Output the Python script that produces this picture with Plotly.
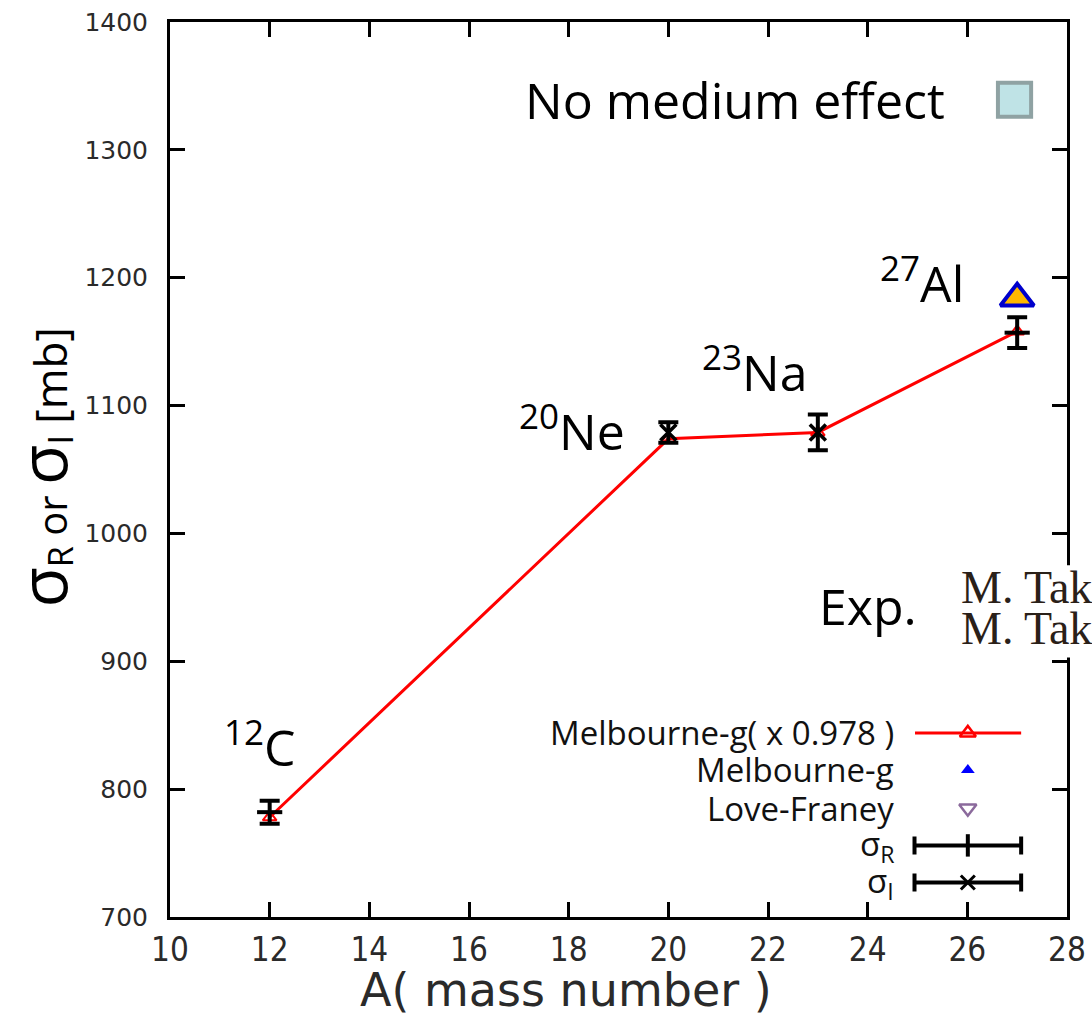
import plotly.graph_objects as go

# Target mass numbers and nucleus labels
mass = [12, 20, 23, 27]
nucleus_labels = ["<sup>12</sup>C", "<sup>20</sup>Ne", "<sup>23</sup>Na", "<sup>27</sup>Al"]
label_x = [11.81, 18.07, 21.73, 25.09]
label_y = [835, 1082, 1128, 1198]

# Melbourne g-matrix folding model, scaled by 0.978
melb_scaled = [778, 1074, 1079, 1158]

# Melbourne g-matrix folding model, unscaled (27Al only)
melb_A = [27]
melb_val = [1184]

# Measured reaction cross sections sigma_R
sigR_A = [12, 27]
sigR = [782, 1157]
sigR_err = [9, 12]

# Measured interaction cross sections sigma_I
sigI_A = [20, 23]
sigI = [1079, 1079]
sigI_err = [8, 14]

# Axis ticks
x_ticks = [10, 12, 14, 16, 18, 20, 22, 24, 26, 28]
y_ticks = [700, 800, 900, 1000, 1100, 1200, 1300, 1400]

SANS = "Open Sans, DejaVu Sans, sans-serif"
VERD = "DejaVu Sans, sans-serif"
NARROW = "DejaVu Sans Condensed, DejaVu Sans, sans-serif"
SERIF = "Liberation Serif, DejaVu Serif, serif"

fig = go.Figure()

# Theory curve
fig.add_trace(go.Scatter(
    x=mass, y=melb_scaled, mode="lines+markers",
    line=dict(color="#ff0000", width=3),
    marker=dict(symbol="triangle-up-open", size=12, color="#ff0000", line=dict(width=2)),
    showlegend=False,
))

# Experimental points with error bars
fig.add_trace(go.Scatter(
    x=sigR_A, y=sigR, mode="markers",
    marker=dict(symbol="line-ew-open", size=18, color="black", line=dict(width=4, color="black")),
    error_y=dict(type="data", array=sigR_err, color="black", thickness=4, width=10),
    showlegend=False,
))
fig.add_trace(go.Scatter(
    x=sigI_A, y=sigI, mode="markers",
    marker=dict(symbol="x-thin-open", size=16, color="black", line=dict(width=3.5, color="black")),
    error_y=dict(type="data", array=sigI_err, color="black", thickness=4, width=10),
    showlegend=False,
))

# Unscaled Melbourne value
fig.add_trace(go.Scatter(
    x=melb_A, y=melb_val, mode="markers",
    marker=dict(symbol="triangle-up", size=29, color="#ffb800", line=dict(width=4, color="#0000cc")),
    showlegend=False,
))

# ---- key (drawn at the lower right of the frame) ----
key_x0, key_xm, key_x1 = 24.95, 26.01, 27.08
key_rows = [844, 815, 785, 756, 727]
key_text = [
    "Melbourne-g( x 0.978 )",
    "Melbourne-g",
    "Love-Franey",
    "σ<sub>R</sub>",
    "σ<sub>I</sub>",
]

fig.add_trace(go.Scatter(
    x=[key_x0, key_x1], y=[key_rows[0], key_rows[0]], mode="lines",
    line=dict(color="#ff0000", width=3), showlegend=False, hoverinfo="skip",
))
fig.add_trace(go.Scatter(
    x=[key_xm], y=[key_rows[0]], mode="markers",
    marker=dict(symbol="triangle-up-open", size=14, color="#ff0000", line=dict(width=2.5)),
    showlegend=False, hoverinfo="skip",
))
fig.add_trace(go.Scatter(
    x=[key_xm], y=[key_rows[1]], mode="markers",
    marker=dict(symbol="triangle-up", size=12, color="#0000ff"),
    showlegend=False, hoverinfo="skip",
))
fig.add_trace(go.Scatter(
    x=[key_xm], y=[key_rows[2]], mode="markers",
    marker=dict(symbol="triangle-down-open", size=15, color="#8b6a9c", line=dict(width=2.5)),
    showlegend=False, hoverinfo="skip",
))
fig.add_trace(go.Scatter(
    x=[key_xm], y=[key_rows[3]], mode="markers",
    marker=dict(symbol="line-ns-open", size=16, color="black", line=dict(width=4, color="black")),
    error_x=dict(type="constant", value=key_x1 - key_xm, color="black", thickness=4, width=9),
    showlegend=False, hoverinfo="skip",
))
fig.add_trace(go.Scatter(
    x=[key_xm], y=[key_rows[4]], mode="markers",
    marker=dict(symbol="x-thin-open", size=14, color="black", line=dict(width=3, color="black")),
    error_x=dict(type="constant", value=key_x1 - key_xm, color="black", thickness=4, width=9),
    showlegend=False, hoverinfo="skip",
))

annotations = []
for t, ky in zip(key_text, key_rows):
    annotations.append(dict(
        x=24.56, y=ky, xref="x", yref="y", text=t, showarrow=False,
        xanchor="right", yanchor="middle",
        font=dict(family=SANS, size=33, color="#111111"),
    ))

# Nucleus labels
for t, lx, ly in zip(nucleus_labels, label_x, label_y):
    annotations.append(dict(
        x=lx, y=ly, xref="x", yref="y", text=t, showarrow=False,
        xanchor="center", yanchor="middle",
        font=dict(family=SANS, size=50, color="black"),
    ))

# Header note with its swatch
annotations.append(dict(
    x=0.866, y=0.913, xref="paper", yref="paper", text="No medium effect",
    showarrow=False, xanchor="right", yanchor="middle",
    font=dict(family=SANS, size=50, color="black"),
))

# Experimental references
annotations.append(dict(
    x=0.778, y=0.347, xref="paper", yref="paper", text="Exp.",
    showarrow=False, xanchor="center", yanchor="middle",
    font=dict(family=SANS, size=50, color="black"),
))
for t, ry in zip(["M. Takechi", "M. Takechi"], [0.368, 0.322]):
    annotations.append(dict(
        x=0.880, y=ry, xref="paper", yref="paper", text=t,
        showarrow=False, xanchor="left", yanchor="middle",
        font=dict(family=SERIF, size=46, color="#2a2018"),
    ))

# Axis titles
annotations.append(dict(
    x=-0.144, y=0.502, xref="paper", yref="paper", textangle=-90,
    text=('<span style="font-size:66px">σ</span>'
          '<sub><span style="font-size:34px">R</span></sub>'
          '<span style="font-size:40px"> or </span>'
          '<span style="font-size:66px">σ</span>'
          '<sub><span style="font-size:34px">I</span></sub>'
          '<span style="font-size:44px"> [mb]</span>'),
    showarrow=False, xanchor="center", yanchor="middle",
    font=dict(family=SANS, size=30, color="black"),
))
annotations.append(dict(
    x=0.441, y=-0.082, xref="paper", yref="paper", text="A( mass number )",
    showarrow=False, xanchor="center", yanchor="middle",
    font=dict(family=VERD, size=46, color="#2a2a2a"),
))

shapes = [
    # swatch next to the header note
    dict(type="rect", xref="paper", yref="paper",
         x0=0.923, x1=0.960, y0=0.894, y1=0.932,
         fillcolor="#bfe3e6", line=dict(color="#8fa2a3", width=4)),
    # white backing behind the reference list
    dict(type="rect", xref="paper", yref="paper", layer="above",
         x0=0.878, x1=1.05, y0=0.290, y1=0.393,
         fillcolor="white", line=dict(width=0)),
]

fig.update_layout(
    width=1092, height=1023,
    margin=dict(l=170, r=25, t=22, b=106),
    paper_bgcolor="white", plot_bgcolor="white",
    annotations=annotations, shapes=shapes,
    xaxis=dict(
        range=[10, 28], tickvals=x_ticks, showgrid=False, zeroline=False,
        showline=True, linecolor="black", linewidth=3, mirror="ticks",
        ticks="inside", ticklen=15, tickwidth=3, tickcolor="black",
        tickfont=dict(family=NARROW, size=33, color="#2a2a2a"),
        ticklabelstandoff=1, automargin=False,
    ),
    yaxis=dict(
        range=[700, 1400], tickvals=y_ticks, showgrid=False, zeroline=False,
        showline=True, linecolor="black", linewidth=3, mirror="ticks",
        ticks="inside", ticklen=15, tickwidth=3, tickcolor="black",
        tickfont=dict(family=VERD, size=25, color="#2a2a2a"),
        ticklabelstandoff=14, automargin=False,
    ),
)

fig.write_html("out.html")
